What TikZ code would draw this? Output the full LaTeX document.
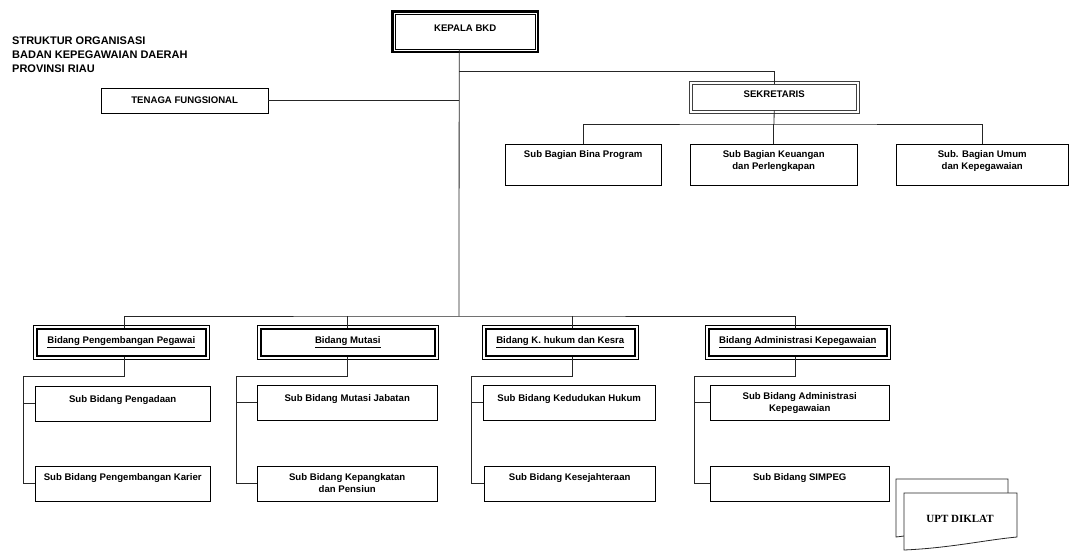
\documentclass[tikz,border=0pt]{standalone}
\usepackage{fontspec}
\setmainfont{Liberation Sans}
\newfontfamily\uptfont{Liberation Serif}
\usetikzlibrary{calc}
\tikzset{
 box/.style={draw, anchor=north west, inner sep=0pt, align=center,
   font=\bfseries\fontsize{9.6}{12}\selectfont},
 sub/.style={box, minimum width=#1, text height=14pt, text depth=21pt},
 subdua/.style={box, minimum width=#1, text height=26pt, text depth=9pt},
 bagian/.style={box, minimum width=#1, text height=13pt, text depth=28pt},
 bagiandua/.style={box, minimum width=#1, text height=25pt, text depth=16pt},
 bidang/.style={box, line width=1.6pt, minimum width=#1, text height=15pt, text depth=12pt},
 judul/.style={anchor=base west, inner sep=0pt, align=left,
   font=\bfseries\fontsize{11}{14}\selectfont},
 line/.style={draw=black!85, line width=0.8pt},
 }

\begin{document}
\begin{tikzpicture}[x=1pt,y=-1pt]
        \useasboundingbox (0,0) rectangle (1069,550);

        \node[judul] (judul) at (12,72) {STRUKTUR ORGANISASI\\BADAN KEPEGAWAIAN DAERAH\\PROVINSI RIAU};

        \node[box, minimum width=140, text height=17pt, text depth=18pt] (kepala) at (395,14) {KEPALA BKD};
        \draw[line width=2.5pt] ($(kepala.north west)+(-2.5,-2.5)$) rectangle ($(kepala.south east)+(2.5,2.5)$);

        \node[box, minimum width=167, text height=15.5pt, text depth=9.5pt] (tenaga) at (101,88) {TENAGA FUNGSIONAL};

        \node[box, draw=black!75, minimum width=164, text height=13pt, text depth=13pt] (sekretaris) at (692,84) {SEKRETARIS};
        \draw[black!75, line width=0.8pt] ($(sekretaris.north west)+(-3,-3)$) rectangle ($(sekretaris.south east)+(3,3)$);

        \node[bagian=156] (bina) at (505,144) {Sub Bagian Bina Program};
        \node[bagiandua=167] (keuangan) at (690,144) {Sub Bagian Keuangan\\dan Perlengkapan};
        \node[bagiandua=172] (umum) at (896,144) {Sub. Bagian Umum\\dan Kepegawaian};

        \node[bidang=169] (bpp) at (36,328) {\underline{Bidang Pengembangan Pegawai}};
        \node[bidang=174] (bmu) at (260,328) {\underline{Bidang Mutasi}};
        \node[bidang=149] (bkh) at (485,328) {\underline{Bidang K. hukum dan Kesra}};
        \node[bidang=178] (bak) at (708,328) {\underline{Bidang Administrasi Kepegawaian}};
        \foreach \b in {bpp,bmu,bkh,bak}
          \draw[line width=0.8pt] ($(\b.north west)+(-3,-3)$) rectangle ($(\b.south east)+(3,3)$);

        \node[sub=175, text height=16pt, text depth=19pt] (pa) at (35,386) {Sub Bidang Pengadaan};
        \node[sub=175] (pk) at (35,466) {Sub Bidang Pengembangan Karier};
        \node[sub=180, text height=16pt, text depth=19pt] (mj) at (257,385) {Sub Bidang Mutasi Jabatan};
        \node[subdua=180] (kp) at (257,466) {Sub Bidang Kepangkatan\\dan Pensiun};
        \node[sub=172, text height=16pt, text depth=19pt] (kh) at (483,385) {Sub Bidang Kedudukan Hukum};
        \node[sub=171] (ks) at (484,466) {Sub Bidang Kesejahteraan};
        \node[subdua=179] (ad) at (710,385) {Sub Bidang Administrasi\\Kepegawaian};
        \node[sub=179] (sp) at (710,466) {Sub Bidang SIMPEG};

        \coordinate (bar) at (459,316);
        \coordinate (atas) at (459,71);
        \coordinate (bawah) at (774,124);

        \draw[line] ([xshift=-6pt]kepala.south) -- (bar);
        \draw[line] (atas) -| (sekretaris.north);
        \draw[line] (tenaga.east) -- (tenaga.east -| bar);
        \draw[line] (sekretaris.south) -- (bawah);
        \draw[line] (bina.north) |- (bawah) -| (umum.north);
        \draw[line] (keuangan.north) -- (keuangan.north |- bawah);
        \draw[line] ([xshift=3pt]bpp.north) |- (bar) -| ([xshift=-2pt]bak.north);

        \foreach \b/\s/\t/\dx/\jx in {bpp/pa/pk/3/23, bmu/mj/kp/0/236, bkh/kh/ks/12.5/471, bak/ad/sp/-2/694} {
          \coordinate (j\b) at (\jx,376);
          \draw[line] ([xshift=\dx pt]\b.north) -- ([xshift=\dx pt]\b.north |- bar);
          \draw[line] ([xshift=\dx pt]\b.south) |- (j\b) |- (\t.west);
          \draw[line] (j\b |- \s.west) -- (\s.west);
        }

        \draw[line, fill=white] (896,479) -- (1008,479) -- (1008,522) .. controls (980,520) and (940,532) .. (896,537) -- cycle;
        \draw[line, fill=white] (904,493) -- (1017,493) -- (1017,537) .. controls (985,540) and (950,548) .. (904,550) -- cycle;
        \node[font=\uptfont\bfseries\fontsize{11}{13}\selectfont] (upt) at (960,519) {UPT DIKLAT};
    \end{tikzpicture}
\end{document}
